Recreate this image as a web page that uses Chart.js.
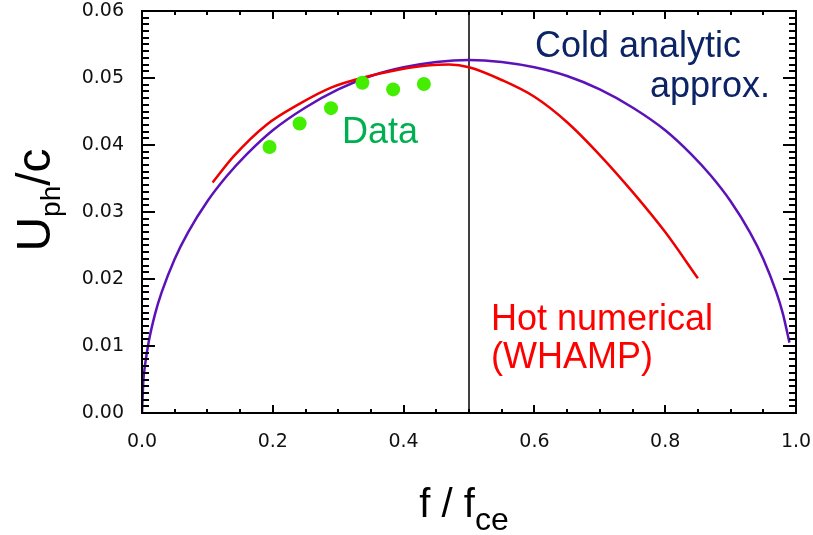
<!DOCTYPE html>
<html>
<head>
<meta charset="utf-8">
<script src="https://cdn.jsdelivr.net/npm/chart.js@4/dist/chart.umd.min.js"></script>
<style>
  body { margin: 0; background: #fff; }
  canvas { display: block; }
</style>
</head>
<body>
<canvas id="dispChart" width="813" height="535"></canvas>
<script>
// cold plasma analytic curve
var coldF = [0, 0.002, 0.005, 0.01, 0.02, 0.03, 0.05, 0.07, 0.1, 0.13, 0.16, 0.2, 0.25, 0.3, 0.35, 0.4, 0.45, 0.5,
             0.55, 0.6, 0.65, 0.7, 0.75, 0.8, 0.84, 0.87, 0.9, 0.93, 0.95, 0.97, 0.98, 0.99];
var coldU = [0, 0.0047, 0.0074, 0.0105, 0.0148, 0.0180, 0.0230, 0.0269, 0.0316, 0.0354, 0.0386, 0.0422, 0.0456, 0.0483, 0.0503, 0.0516, 0.0524, 0.0527,
             0.0524, 0.0516, 0.0503, 0.0483, 0.0456, 0.0422, 0.0386, 0.0354, 0.0316, 0.0269, 0.0230, 0.0180, 0.0148, 0.0105];

// WHAMP hot numerical solution
var hotF = [0.108, 0.14, 0.19, 0.24, 0.29, 0.34, 0.39, 0.44, 0.47, 0.50, 0.55, 0.60, 0.65, 0.70, 0.75, 0.80, 0.85];
var hotU = [0.0344, 0.0383, 0.0430, 0.0461, 0.0486, 0.0501, 0.0512, 0.0519, 0.0520, 0.0516, 0.0497, 0.0472, 0.0434, 0.0385, 0.0330, 0.0270, 0.0201];

// measured points
var dataF = [0.195, 0.241, 0.289, 0.337, 0.384, 0.431];
var dataU = [0.0397, 0.0432, 0.0455, 0.0493, 0.0483, 0.0491];

// f = 0.5 fce marker
var halfF = [0.5, 0.5];
var halfU = [0, 0.06];

var xTicks = [0, 0.2, 0.4, 0.6, 0.8, 1.0];
var yTicks = [0, 0.01, 0.02, 0.03, 0.04, 0.05, 0.06];

function pts(xs, ys) {
  return xs.map(function (x, i) { return { x: x, y: ys[i] }; });
}

var sans = '"Liberation Sans", Arial, Helvetica, sans-serif';

// frame, inward ticks, axis titles and labels
var decorations = {
  id: 'decorations',
  afterDraw: function (chart) {
    var ctx = chart.ctx;
    var a = chart.chartArea;
    var xs = chart.scales.x, ys = chart.scales.y;
    ctx.save();
    ctx.strokeStyle = '#000';
    ctx.lineWidth = 2;
    ctx.strokeRect(a.left, a.top, a.right - a.left, a.bottom - a.top);

    ctx.beginPath();
    for (var i = 0; i <= 20; i++) {
      var px = Math.round(xs.getPixelForValue(i * 0.05));
      var len = (i % 4 === 0) ? 8 : 4;
      ctx.moveTo(px, a.bottom); ctx.lineTo(px, a.bottom - len);
      ctx.moveTo(px, a.top); ctx.lineTo(px, a.top + len);
    }
    for (var j = 0; j <= 60; j++) {
      var py = Math.round(ys.getPixelForValue(j * 0.001));
      var l = (j % 10 === 0) ? 13 : 7;
      ctx.moveTo(a.left, py); ctx.lineTo(a.left + l, py);
      ctx.moveTo(a.right, py); ctx.lineTo(a.right - l, py);
    }
    ctx.stroke();

    // y title: U_ph/c
    ctx.fillStyle = '#000';
    ctx.translate(50, 200);
    ctx.rotate(-Math.PI / 2);
    ctx.textBaseline = 'alphabetic';
    ctx.font = '48px ' + sans;
    var wU = ctx.measureText('U').width;
    ctx.font = '28px ' + sans;
    var wPh = ctx.measureText('ph').width;
    ctx.font = '48px ' + sans;
    var wRest = ctx.measureText('/c').width;
    var x0 = -(wU + wPh + wRest) / 2;
    ctx.fillText('U', x0, 0);
    ctx.font = '28px ' + sans;
    ctx.fillText('ph', x0 + wU, 10);
    ctx.font = '48px ' + sans;
    ctx.fillText('/c', x0 + wU + wPh, 0);
    ctx.setTransform(1, 0, 0, 1, 0, 0);

    // x title: f / f_ce
    ctx.font = '40px ' + sans;
    var wF = ctx.measureText('f / f').width;
    ctx.font = '32px ' + sans;
    var wCe = ctx.measureText('ce').width;
    var xs0 = 464 - (wF + wCe) / 2;
    ctx.font = '40px ' + sans;
    ctx.fillText('f / f', xs0, 517);
    ctx.font = '32px ' + sans;
    ctx.fillText('ce', xs0 + wF, 530);

    // curve labels
    ctx.font = '36px ' + sans;
    ctx.fillStyle = '#0c2466';
    ctx.fillText('Cold analytic', 535, 57);
    ctx.fillText('approx.', 650, 97);
    ctx.fillStyle = '#00b050';
    ctx.fillText('Data', 342, 143);
    ctx.fillStyle = '#ff0000';
    ctx.fillText('Hot numerical', 491, 330);
    ctx.fillText('(WHAMP)', 491, 368);
    ctx.restore();
  }
};

var ctx = document.getElementById('dispChart').getContext('2d');
var chart = new Chart(ctx, {
  type: 'scatter',
  data: {
    datasets: [
      {
        data: pts(dataF, dataU),
        showLine: false,
        pointRadius: 7,
        pointBackgroundColor: '#44ee00',
        pointBorderWidth: 0,
        order: 0
      },
      {
        data: pts(hotF, hotU),
        showLine: true,
        borderColor: '#ee0000',
        borderWidth: 2.5,
        pointRadius: 0,
        cubicInterpolationMode: 'monotone',
        order: 1
      },
      {
        data: pts(coldF, coldU),
        showLine: true,
        borderColor: '#5b12b8',
        borderWidth: 2.5,
        pointRadius: 0,
        cubicInterpolationMode: 'monotone',
        order: 2
      },
      {
        data: pts(halfF, halfU),
        showLine: true,
        borderColor: '#000',
        borderWidth: 1.5,
        pointRadius: 0,
        order: 3
      }
    ]
  },
  options: {
    responsive: false,
    animation: false,
    layout: { padding: { top: 11, right: 17, left: 0, bottom: 0 } },
    plugins: { legend: { display: false }, tooltip: { enabled: false } },
    scales: {
      x: {
        type: 'linear',
        min: 0, max: 1,
        grid: { display: false },
        border: { display: false },
        afterBuildTicks: function (s) { s.ticks = xTicks.map(function (v) { return { value: v }; }); },
        afterFit: function (s) { s.height = 122; s.paddingLeft = 0; s.paddingRight = 0; },
        ticks: {
          padding: 10,
          color: '#111',
          font: { family: '"DejaVu Sans", Verdana, sans-serif', size: 19 },
          callback: function (v) { return v.toFixed(1); }
        }
      },
      y: {
        type: 'linear',
        min: 0, max: 0.06,
        grid: { display: false },
        border: { display: false },
        afterBuildTicks: function (s) { s.ticks = yTicks.map(function (v) { return { value: v }; }); },
        afterFit: function (s) { s.width = 142; s.paddingTop = 0; s.paddingBottom = 0; },
        ticks: {
          padding: 10,
          color: '#111',
          font: { family: '"DejaVu Sans", Verdana, sans-serif', size: 19 },
          callback: function (v) { return v.toFixed(2); }
        }
      }
    }
  },
  plugins: [decorations]
});
</script>
</body>
</html>
